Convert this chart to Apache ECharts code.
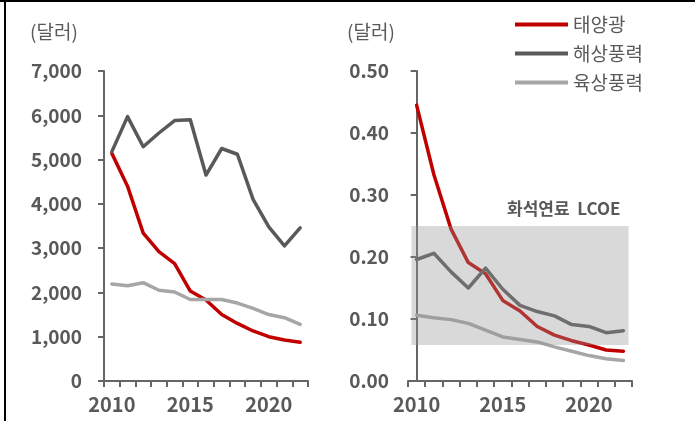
<!DOCTYPE html>
<html>
<head>
<meta charset="utf-8">
<script src="https://cdn.jsdelivr.net/npm/echarts@6/dist/echarts.min.js"></script>
<style>
  html, body { margin: 0; padding: 0; background: #fff; }
  #chart { width: 699px; height: 421px; }
</style>
</head>
<body>
<div id="chart"></div>
<script>
// Years on both horizontal axes
const years = ['2010','2011','2012','2013','2014','2015','2016','2017','2018','2019','2020','2021','2022'];

// Series names
const seriesNames = ['태양광', '해상풍력', '육상풍력'];

// Left panel: installation cost (달러)
const solarCost    = [5140, 4400, 3340, 2920, 2650, 2030, 1830, 1500, 1300, 1130, 1000, 925, 875];
const offshoreCost = [5180, 5970, 5290, 5600, 5880, 5900, 4650, 5250, 5120, 4100, 3480, 3050, 3460];
const onshoreCost  = [2190, 2150, 2220, 2050, 2010, 1840, 1840, 1840, 1760, 1640, 1500, 1430, 1280];

// Right panel: LCOE (달러)
const solarLcoe    = [0.445, 0.333, 0.245, 0.191, 0.173, 0.130, 0.113, 0.088, 0.074, 0.065, 0.058, 0.050, 0.048];
const offshoreLcoe = [0.196, 0.206, 0.176, 0.150, 0.182, 0.148, 0.122, 0.112, 0.105, 0.091, 0.088, 0.078, 0.081];
const onshoreLcoe  = [0.106, 0.102, 0.099, 0.093, 0.082, 0.071, 0.067, 0.063, 0.055, 0.048, 0.041, 0.036, 0.033];

// Fossil-fuel LCOE band (low, high)
const fossilBand = [0.058, 0.25];
const fossilLabel = '화석연료  LCOE';

// Axis ranges and ticks
const leftMax = 7000, leftStep = 1000;
const rightMax = 0.5, rightStep = 0.1;

const FONT = "'Noto Sans CJK KR', 'Noto Sans', sans-serif";
const TEXT = '#595959';
const AXIS = '#666666';
const colors = ['#c00000', '#595959', '#a6a6a6'];

const chart = echarts.init(document.getElementById('chart'), null, { renderer: 'canvas' });

function catAxis(gridIndex) {
  return {
    gridIndex, type: 'category', data: years, boundaryGap: true,
    axisLine: { show: true, lineStyle: { color: AXIS, width: 2 } },
    axisTick: { show: true, length: 6, interval: 0, lineStyle: { color: AXIS, width: 2 } },
    axisLabel: { interval: 4, margin: 13, fontSize: 20, fontWeight: 'bold', color: TEXT, fontFamily: FONT },
    splitLine: { show: false }
  };
}

function valAxis(gridIndex, max, step, fmt, margin) {
  return {
    gridIndex, type: 'value', min: 0, max, interval: step,
    axisLine: { show: true, lineStyle: { color: AXIS, width: 2 } },
    axisTick: { show: true, length: 6, lineStyle: { color: AXIS, width: 2 } },
    axisLabel: { margin, fontSize: 19, fontWeight: 'bold', color: TEXT, fontFamily: FONT, formatter: fmt },
    splitLine: { show: false }
  };
}

function lineSeries(name, data, idx, xi, yi) {
  return {
    name, type: 'line', data, xAxisIndex: xi, yAxisIndex: yi,
    symbol: 'none', smooth: false,
    lineStyle: { color: colors[idx], width: 3.5, cap: 'round', join: 'round' },
    itemStyle: { color: colors[idx] },
    z: 2
  };
}

const unitStyle = { fontSize: 19, fontWeight: 'normal', color: TEXT, fontFamily: FONT };

const option = {
  animation: false,
  backgroundColor: '#ffffff',
  textStyle: { fontFamily: FONT },
  title: [
    { text: '(달러)', left: 30, top: 22, padding: 0, textStyle: unitStyle },
    { text: '(달러)', left: 347, top: 22, padding: 0, textStyle: unitStyle }
  ],
  legend: {
    data: seriesNames, orient: 'vertical', left: 515, top: 15, padding: 0,
    icon: 'rect', itemWidth: 53, itemHeight: 4, itemGap: 10,
    textStyle: { fontSize: 19, color: TEXT, fontFamily: FONT }
  },
  grid: [
    { left: 104, top: 71, width: 204, height: 310 },
    { left: 408, top: 71, width: 224, height: 310 }
  ],
  xAxis: [
    catAxis(0),
    catAxis(1),
    // index scale aligned with the category centres of the right panel
    { gridIndex: 1, type: 'value', min: -0.5, max: years.length - 0.5, show: false }
  ],
  yAxis: [
    valAxis(0, leftMax, leftStep, v => v.toLocaleString('en-US'), 22),
    valAxis(1, rightMax, rightStep, v => v.toFixed(2), 19)
  ],
  series: [
    lineSeries(seriesNames[0], solarCost, 0, 0, 0),
    lineSeries(seriesNames[1], offshoreCost, 1, 0, 0),
    lineSeries(seriesNames[2], onshoreCost, 2, 0, 0),
    lineSeries(seriesNames[0], solarLcoe, 0, 1, 1),
    lineSeries(seriesNames[1], offshoreLcoe, 1, 1, 1),
    lineSeries(seriesNames[2], onshoreLcoe, 2, 1, 1),
    {
      type: 'custom', xAxisIndex: 2, yAxisIndex: 1, z: 5, silent: true,
      data: [[-0.3, years.length - 1 + 0.3, fossilBand[0], fossilBand[1]]],
      renderItem: function (params, api) {
        const tl = api.coord([api.value(0), api.value(3)]);
        const br = api.coord([api.value(1), api.value(2)]);
        return {
          type: 'group',
          children: [
            { type: 'rect', shape: { x: tl[0], y: tl[1], width: br[0] - tl[0], height: br[1] - tl[1] },
              style: { fill: 'rgba(148,148,148,0.355)' } },
            { type: 'text', x: br[0] - 8, y: tl[1] - 17,
              style: { text: fossilLabel, align: 'right', verticalAlign: 'middle',
                       fontSize: 17, fontWeight: 'bold', fill: TEXT, fontFamily: FONT } }
          ]
        };
      }
    }
  ],
  graphic: [
    { type: 'rect', left: 0, top: 0, shape: { width: 695, height: 2 }, style: { fill: '#000' }, silent: true },
    { type: 'rect', left: 4, top: 0, shape: { width: 2, height: 421 }, style: { fill: '#000' }, silent: true }
  ]
};

chart.setOption(option);
</script>
</body>
</html>
